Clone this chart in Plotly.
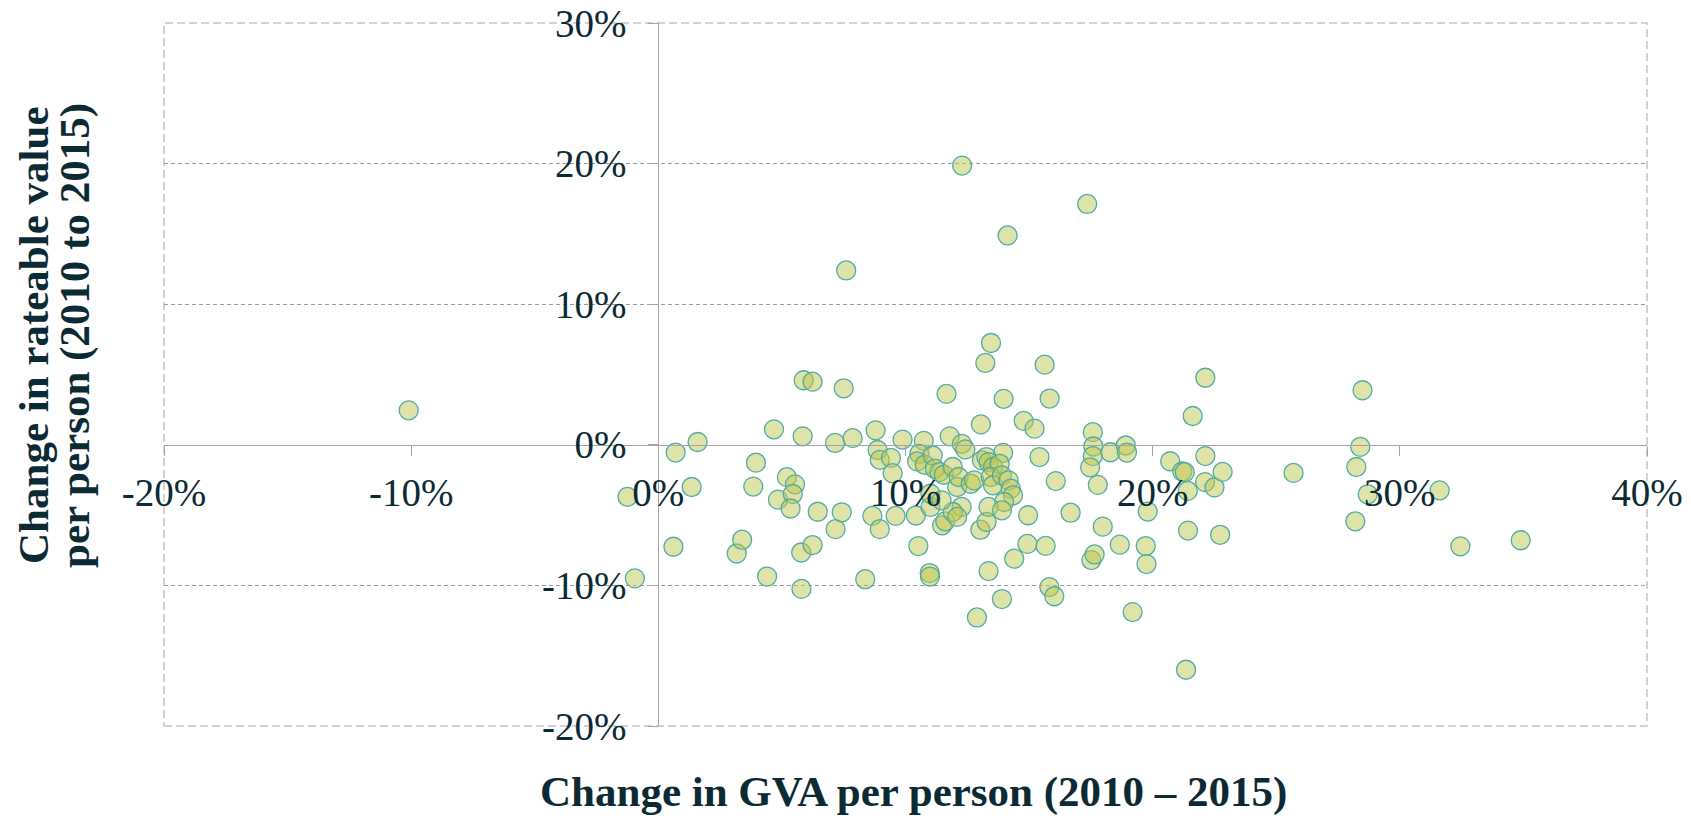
import plotly.graph_objects as go

# Change in GVA per person 2010-2015 (%)
gva_change = [
    -10.1, -1.25, -0.95, 0.7, 0.61, 1.59, 1.35, 3.17, 3.39, 3.84,
    3.95, 4.4, 4.68, 4.84, 5.2, 5.53, 5.44, 5.35, 5.78, 5.79,
    5.84, 5.88, 6.24, 6.24, 6.45, 7.15, 7.17, 7.42, 7.5, 7.6,
    7.86, 8.37, 8.66, 8.79, 8.87, 8.96, 8.96, 9.41, 9.48, 9.6,
    9.88, 10.42, 10.52, 10.74, 10.98, 10.99, 11.48, 11.61, 11.66, 11.79,
    12.29, 12.28, 12.42, 12.89, 13.03, 13.05, 13.23, 13.28, 13.36, 13.46,
    13.9, 13.95, 13.97, 14.13, 14.4, 14.78, 14.93, 14.96, 15.22, 15.42,
    15.63, 15.67, 15.82, 15.83, 16.02, 16.08, 16.68, 17.35, 17.52, 17.58,
    17.6, 17.58, 17.47, 17.65, 17.78, 17.98, 18.29, 18.67, 18.91, 18.96,
    19.19, 19.72, 19.75, 19.8, 20.71, 21.2, 21.3, 21.35, 21.42, 21.43,
    21.62, 22.13, 22.13, 22.12, 22.5, 22.73, 22.83, 25.7, 28.49, 28.4,
    28.24, 28.7, 28.2, 31.61, 32.45, 34.89,
    10.56, 10.47, 10.78, 11.1, 11.19, 11.37, 11.55, 11.91, 12.09, 12.15,
    12.27, 11.91, 11.01, 11.01, 11.46, 12.09, 12.64, 12.78, 13.09, 13.27,
    13.36, 13.54, 13.81, 13.45, 13.54, 13.9, 14.17, 14.26, 14.35, 13.99,
    13.36, 13.9,
]

# Change in rateable value per person 2010-2015 (%)
rv_change = [
    2.45, -3.7, -9.5, -0.55, -7.25, 0.2, -3.0, -7.73, -6.75, -2.97,
    -1.27, -9.37, 1.1, -3.9, -2.3, -2.81, -3.5, -4.53, -7.66, -10.25,
    0.6, 4.59, 4.49, -7.13, -4.76, 0.13, -6.0, -4.8, 4.02, 12.4,
    0.47, -9.56, -5.06, 1.03, -0.37, -1.07, -6.0, -0.93, -2.02, -5.06,
    0.37, -5.03, -7.2, 0.28, -9.12, -9.37, -5.73, -5.44, 3.62, 0.6,
    19.86, 0.07, -0.33, -12.28, -6.04, 1.45, 5.82, -5.49, -8.98, 7.24,
    -10.97, -0.57, 3.27, 14.89, -8.1, 1.7, -7.05, -5.01, 1.15, -0.87,
    5.7, -7.19, -10.12, 3.29, -10.77, -2.58, -4.83, 17.13, -8.2, 0.9,
    -0.12, -0.8, -1.6, -7.8, -2.85, -5.82, -0.53, -7.1, -0.05, -0.55,
    -11.9, -7.2, -8.48, -4.75, -1.17, -1.9, -1.95, -16.0, -3.28, -6.1,
    2.05, 4.77, -0.8, -2.65, -3.03, -6.4, -1.93, -2.0, 3.88, -0.15,
    -1.58, -3.52, -5.44, -3.24, -7.22, -6.79,
    -0.64, -1.18, -1.42, -0.76, -1.7, -1.94, -2.13, -1.58, -3.0, -2.29,
    -4.42, -4.78, -4.42, -3.48, -3.95, -5.13, -2.77, -2.53, -1.11, -0.87,
    -1.23, -1.58, -1.35, -2.29, -2.88, -2.17, -2.53, -3.12, -3.59, -4.07,
    -4.42, -4.66,
]

x_ticks = [-20, -10, 0, 10, 20, 30, 40]
x_tick_labels = ["-20%", "-10%", "0%", "10%", "20%", "30%", "40%"]
y_ticks = [-20, -10, 0, 10, 20, 30]
y_tick_labels = ["-20%", "-10%", "0%", "10%", "20%", "30%"]
y_grid = [-10, 10, 20]

x_title = "Change in GVA per person (2010 \u2013 2015)"
y_title_lines = ["Change in rateable value", "per person (2010 to 2015)"]

TEXT = "#0b2a34"
AXIS = "#a3a3a3"
SERIF = "Liberation Serif, Times New Roman, serif"

# the page body margin is removed by a post script, so the figure fills the page
W, H = 1691, 822
L, R, T, B = 164, 44, 23, 96
pw, ph = W - L - R, H - T - B

fig = go.Figure(
    go.Scatter(
        x=gva_change,
        y=rv_change,
        mode="markers",
        marker=dict(
            size=19,
            color="rgba(190,200,80,0.5)",
            line=dict(color="#52aaa5", width=1.3),
        ),
        hoverinfo="x+y",
    )
)

tickfont = dict(family=SERIF, size=39, color=TEXT)

fig.update_layout(
    width=W,
    height=H,
    margin=dict(l=L, r=R, t=T, b=B, pad=0),
    paper_bgcolor="white",
    plot_bgcolor="white",
    showlegend=False,
    xaxis=dict(
        range=[-20, 40],
        tickmode="array",
        tickvals=x_ticks,
        ticktext=x_tick_labels,
        showgrid=False,
        zeroline=False,
        showline=True,
        linecolor=AXIS,
        linewidth=1.3,
        anchor="free",
        position=20 / 50,
        ticks="outside",
        ticklen=10,
        tickwidth=1.2,
        tickcolor=AXIS,
        ticklabelstandoff=3,
        ticklabeloverflow="allow",
        tickfont=tickfont,
        automargin=False,
    ),
    yaxis=dict(
        range=[-20, 30],
        tickmode="array",
        tickvals=y_ticks,
        ticktext=y_tick_labels,
        showgrid=False,
        zeroline=False,
        showline=True,
        linecolor=AXIS,
        linewidth=1.3,
        anchor="free",
        position=20 / 60,
        ticks="outside",
        ticklen=10,
        tickwidth=1.2,
        tickcolor=AXIS,
        ticklabelstandoff=14,
        ticklabeloverflow="allow",
        tickfont=tickfont,
        minor=dict(
            tickmode="array",
            tickvals=y_grid,
            showgrid=True,
            gridcolor="#9a9a9a",
            griddash="4px,3px",
            gridwidth=1.2,
            ticks="",
        ),
        automargin=False,
    ),
    shapes=[
        dict(
            type="rect",
            xref="x domain",
            yref="y domain",
            x0=0,
            x1=1,
            y0=0,
            y1=1,
            line=dict(color="#c4c4c4", width=1.5, dash="8px,4px"),
            layer="below",
        )
    ],
)

annotations = [
    dict(
        text="<b>" + x_title + "</b>",
        xref="paper",
        yref="paper",
        x=(913 - L) / pw,
        y=(H - B - 792) / ph,
        xanchor="center",
        yanchor="middle",
        showarrow=False,
        font=dict(family=SERIF, size=43, color=TEXT),
    )
]
for cx, line in zip([33, 75], y_title_lines):
    annotations.append(
        dict(
            text="<b>" + line + "</b>",
            xref="paper",
            yref="paper",
            x=(cx - L) / pw,
            y=(H - B - 336) / ph,
            xanchor="center",
            yanchor="middle",
            textangle=-90,
            showarrow=False,
            font=dict(family=SERIF, size=43, color=TEXT),
        )
    )
fig.update_layout(annotations=annotations)

fig.write_html(
    "out.html",
    config={"displayModeBar": False},
    post_script="document.body.style.margin='0px';document.body.style.overflow='hidden';",
)
